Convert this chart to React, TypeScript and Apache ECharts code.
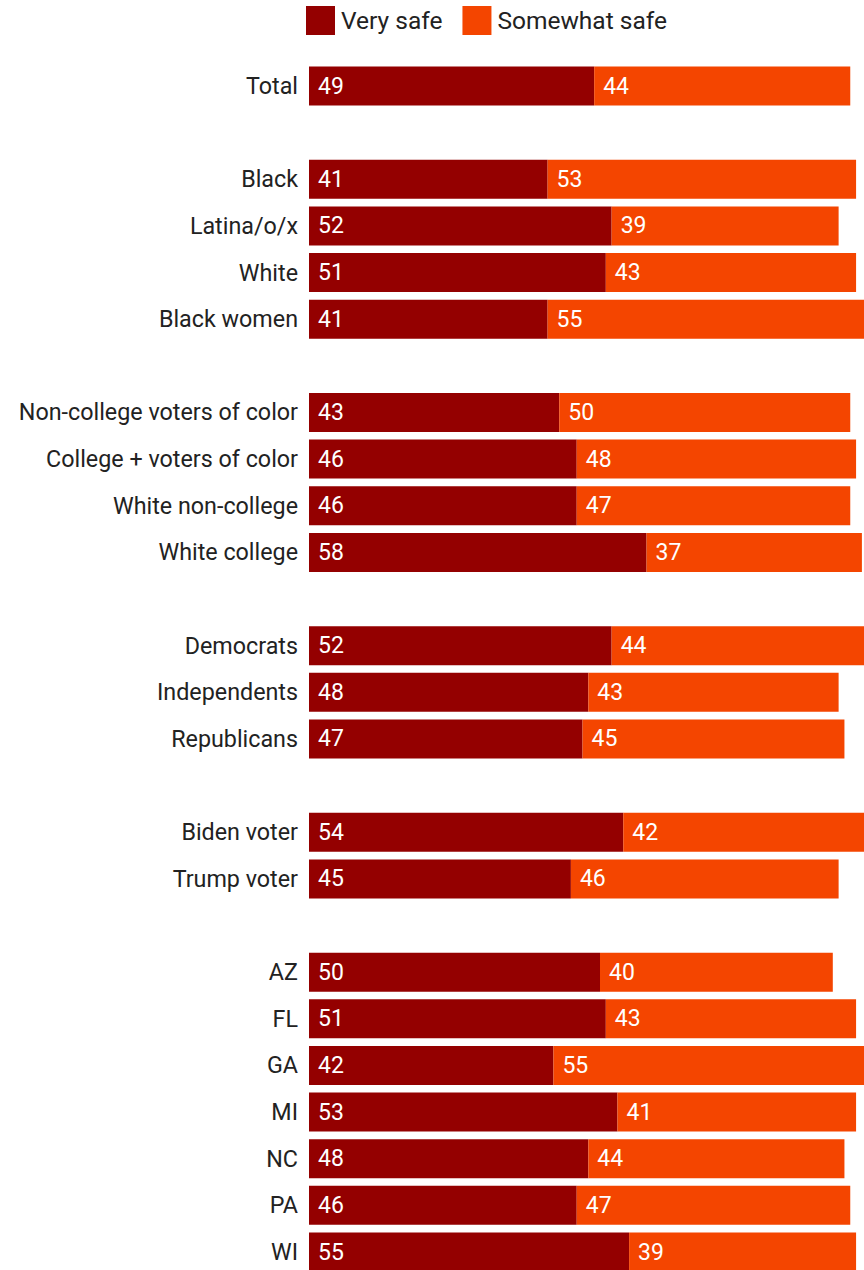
import React, { useEffect, useRef } from "react";
import * as echarts from "echarts";

const categories = [
  "Total", "",
  "Black", "Latina/o/x", "White", "Black women", "",
  "Non-college voters of color", "College + voters of color", "White non-college", "White college", "",
  "Democrats", "Independents", "Republicans", "",
  "Biden voter", "Trump voter", "",
  "AZ", "FL", "GA", "MI", "NC", "PA", "WI",
];

const verySafe: (number | null)[] = [
  49, null,
  41, 52, 51, 41, null,
  43, 46, 46, 58, null,
  52, 48, 47, null,
  54, 45, null,
  50, 51, 42, 53, 48, 46, 55,
];

const somewhatSafe: (number | null)[] = [
  44, null,
  53, 39, 43, 55, null,
  50, 48, 47, 37, null,
  44, 43, 45, null,
  42, 46, null,
  40, 43, 55, 41, 44, 47, 39,
];

const seriesNames = ["Very safe", "Somewhat safe"];
const colors = ["#940000", "#F44500"];

export default function App() {
  const ref = useRef<HTMLDivElement>(null);
  useEffect(() => {
    if (!ref.current) return;
    const chart = echarts.init(ref.current, undefined, { renderer: "svg" });
    const band = 46.64;
    const labelStyle = {
      show: true,
      position: "insideLeft" as const,
      distance: 9,
      color: "#ffffff",
      fontSize: 23,
      fontFamily: "Roboto",
    };
    chart.setOption({
      animation: false,
      textStyle: { fontFamily: "Roboto" },
      legend: {
        top: 1,
        left: 301,
        itemWidth: 29,
        itemHeight: 29,
        itemGap: 20,
        icon: "rect",
        textStyle: { fontSize: 24.5, color: "#222", fontFamily: "Roboto", padding: [0, 0, 0, 1] },
        data: seriesNames,
      },
      grid: {
        left: 309,
        top: 86 - band / 2,
        width: 582,
        height: band * categories.length,
        containLabel: false,
      },
      xAxis: {
        type: "value",
        min: 0,
        max: 100,
        show: false,
      },
      yAxis: {
        type: "category",
        inverse: true,
        data: categories,
        axisLine: { show: false },
        axisTick: { show: false },
        splitLine: { show: false },
        axisLabel: {
          color: "#222",
          fontSize: 23.3,
          fontFamily: "Roboto",
          margin: 11,
          interval: 0,
        },
      },
      series: [
        {
          name: seriesNames[0],
          type: "bar",
          stack: "s",
          barWidth: 39,
          data: verySafe,
          itemStyle: { color: colors[0] },
          label: labelStyle,
        },
        {
          name: seriesNames[1],
          type: "bar",
          stack: "s",
          barWidth: 39,
          data: somewhatSafe,
          itemStyle: { color: colors[1] },
          label: labelStyle,
        },
      ],
    });
    return () => chart.dispose();
  }, []);
  return (
    <div
      style={{ position: "fixed", left: 0, top: 0, width: 864, height: 1270, overflow: "hidden", background: "#fff" }}
    >
      <div ref={ref} style={{ width: 900, height: 1300 }} />
    </div>
  );
}
